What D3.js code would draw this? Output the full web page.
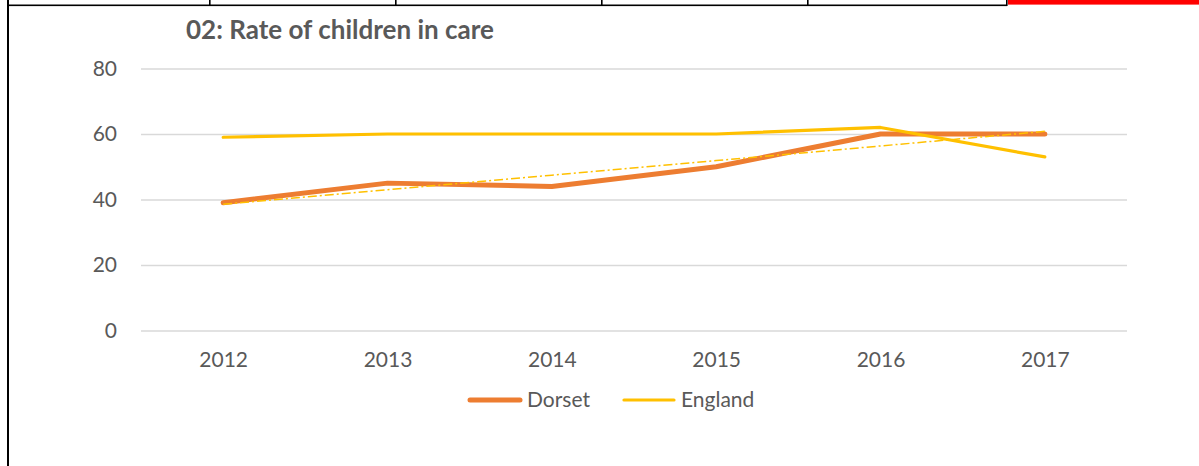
<!DOCTYPE html>
<html>
<head>
<meta charset="utf-8">
<script src="https://cdn.jsdelivr.net/npm/d3@7"></script>
<style>
  html, body { margin: 0; padding: 0; background: #fff; }
  svg { display: block; }
  text { font-family: Lato, "Open Sans", sans-serif; fill: #595959; }
</style>
</head>
<body>
<svg id="chart" width="1199" height="466"></svg>
<script>
// ---- data ----
const years = ["2012", "2013", "2014", "2015", "2016", "2017"];
const dorset = [39, 45, 44, 50, 60, 60];
const england = [59, 60, 60, 60, 62, 53];
const yTicks = [0, 20, 40, 60, 80];
const seriesNames = ["Dorset", "England"];
const title = "02: Rate of children in care";

// ---- layout ----
const W = 1199, H = 466;
const plot = { left: 141, right: 1127, top: 68.5, bottom: 330.5 };
const colors = { Dorset: "#ED7D31", England: "#FFC000" };

const svg = d3.select("#chart");
svg.append("rect").attr("width", W).attr("height", H).attr("fill", "#fff");

// frame from surrounding document
svg.append("rect").attr("x", 7).attr("y", 0).attr("width", 2).attr("height", H).attr("fill", "#000");
svg.append("rect").attr("x", 7).attr("y", 4.5).attr("width", 1000).attr("height", 1.6).attr("fill", "#000");
[209, 395, 601, 807, 1006].forEach(x => {
  svg.append("rect").attr("x", x).attr("y", 0).attr("width", 1.6).attr("height", 6).attr("fill", "#000");
});
svg.append("rect").attr("x", 1008).attr("y", 0).attr("width", W - 1008).attr("height", 4.6).attr("fill", "#FF0000");

const x = d3.scalePoint().domain(years).range([plot.left, plot.right]).padding(0.5);
const y = d3.scaleLinear().domain([0, 80]).range([plot.bottom, plot.top]);

// gridlines
const yAxis = d3.axisLeft(y).tickValues(yTicks).tickSize(-(plot.right - plot.left)).tickPadding(24);
const gy = svg.append("g").attr("transform", `translate(${plot.left},0)`).call(yAxis);
gy.select(".domain").remove();
gy.selectAll(".tick line").attr("stroke", "#D9D9D9").attr("stroke-width", 1.3);
gy.selectAll(".tick text").attr("font-size", 21).attr("fill", "#595959")
  .attr("font-family", "Lato, 'Open Sans', sans-serif");

// x axis labels
const xAxis = d3.axisBottom(x).tickSize(0).tickPadding(22);
const gx = svg.append("g").attr("transform", `translate(0,${plot.bottom})`).call(xAxis);
gx.select(".domain").remove();
gx.selectAll(".tick text").attr("font-size", 21).attr("fill", "#595959")
  .attr("font-family", "Lato, 'Open Sans', sans-serif");

const line = d3.line().x((d, i) => x(years[i])).y(d => y(d));

svg.append("path").datum(dorset).attr("d", line)
  .attr("fill", "none").attr("stroke", colors.Dorset).attr("stroke-width", 5)
  .attr("stroke-linecap", "round").attr("stroke-linejoin", "round");

svg.append("path").datum(england).attr("d", line)
  .attr("fill", "none").attr("stroke", colors.England).attr("stroke-width", 3.2)
  .attr("stroke-linecap", "round").attr("stroke-linejoin", "round");

// linear trendline of Dorset (least squares, as in the original spreadsheet)
const n = dorset.length;
const mx = d3.mean(d3.range(n)), my = d3.mean(dorset);
const slope = d3.sum(d3.range(n), i => (i - mx) * (dorset[i] - my)) / d3.sum(d3.range(n), i => (i - mx) ** 2);
const icpt = my - slope * mx;
const trend = d3.range(n).map(i => icpt + slope * i);
svg.append("path").datum(trend).attr("d", line)
  .attr("fill", "none").attr("stroke", colors.England).attr("stroke-width", 1.5)
  .attr("stroke-dasharray", "9,3,2,3");

// title
svg.append("text").attr("x", 340).attr("y", 39).attr("text-anchor", "middle")
  .attr("font-size", 26).attr("font-weight", "bold").attr("fill", "#595959").text(title);

// legend
const legendItems = [
  { name: seriesNames[0], x0: 468, w: 5 },
  { name: seriesNames[1], x0: 622, w: 3.2 }
];
legendItems.forEach(it => {
  svg.append("line").attr("x1", it.x0 + 2).attr("x2", it.x0 + 52).attr("y1", 400).attr("y2", 400)
    .attr("stroke", colors[it.name]).attr("stroke-width", it.w).attr("stroke-linecap", "round");
  svg.append("text").attr("x", it.x0 + 59).attr("y", 407).attr("font-size", 21).text(it.name);
});
</script>
</body>
</html>
